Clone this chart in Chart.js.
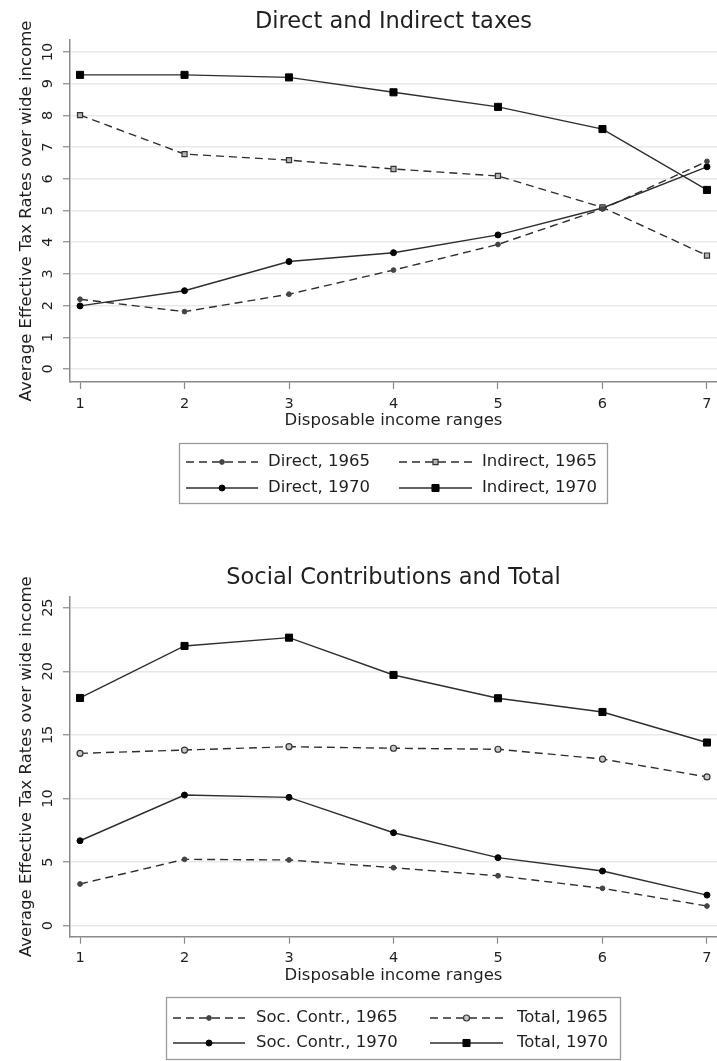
<!DOCTYPE html>
<html>
<head>
<meta charset="utf-8">
<title>Average effective tax rates by disposable income range</title>
<script src="https://cdn.jsdelivr.net/npm/chart.js@4.4.0/dist/chart.umd.min.js"></script>
<style>
  html, body { margin: 0; padding: 0; background: #ffffff; }
  #wrap { position: relative; width: 717px; height: 1061px; overflow: hidden; background: #ffffff; }
  #wrap canvas { position: absolute; left: 0; }
</style>
</head>
<body>
<div id="wrap">
  <canvas id="taxes" width="717" height="530" style="top:0px"></canvas>
  <canvas id="social" width="717" height="531" style="top:530px"></canvas>
</div>
<script>
// Disposable income ranges (x axis)
const incomeRanges = [1, 2, 3, 4, 5, 6, 7];

// Direct and indirect taxes, % of wide income
const direct1965   = [2.20, 1.81, 2.36, 3.12, 3.93, 5.05, 6.55];
const indirect1965 = [8.01, 6.78, 6.59, 6.31, 6.09, 5.10, 3.58];
const direct1970   = [1.99, 2.47, 3.39, 3.67, 4.23, 5.08, 6.38];
const indirect1970 = [9.28, 9.28, 9.20, 8.73, 8.27, 7.57, 5.65];

// Social contributions and total, % of wide income
const socContr1965 = [3.28, 5.22, 5.17, 4.56, 3.93, 2.94, 1.55];
const total1965    = [13.55, 13.81, 14.07, 13.95, 13.87, 13.10, 11.70];
const socContr1970 = [6.68, 10.27, 10.09, 7.31, 5.35, 4.30, 2.41];
const total1970    = [17.90, 21.99, 22.64, 19.71, 17.88, 16.80, 14.40];

// Tick values
const taxTicks    = [0, 1, 2, 3, 4, 5, 6, 7, 8, 9, 10];
const socialTicks = [0, 5, 10, 15, 20, 25];

const FONT = "'DejaVu Sans', 'Liberation Sans', sans-serif";
const TEXT = '#1f1f1f';
const AXIS = '#8a8a8a';
const LINE = '#2e2e2e';

Chart.defaults.font.family = FONT;
Chart.defaults.color = TEXT;

const points = vals => incomeRanges.map((x, i) => ({ x, y: vals[i] }));

// Line styles: dashed for 1965, solid for 1970
function series(label, vals, dashed, marker) {
  return {
    label,
    data: points(vals),
    borderColor: LINE,
    borderWidth: 1.4,
    borderDash: dashed ? [8, 5] : [],
    pointStyle: marker.style,
    pointRadius: marker.radius,
    pointBackgroundColor: marker.fill,
    pointBorderColor: marker.stroke,
    pointBorderWidth: marker.width,
    pointHoverRadius: marker.radius,
    tension: 0,
    fill: false,
    clip: false
  };
}

const dot65   = { style: 'circle', radius: 2.4, fill: '#444', stroke: '#444', width: 1 };
const dot70   = { style: 'circle', radius: 3.0, fill: '#000', stroke: '#000', width: 1 };
const sq65    = { style: 'rect',   radius: 3.6, fill: '#b5b5b5', stroke: '#333', width: 1.2 };
const sq70    = { style: 'rect',   radius: 5.0, fill: '#000', stroke: '#000', width: 1 };
const ring65  = { style: 'circle', radius: 3.0, fill: '#c8c8c8', stroke: '#333', width: 1.2 };

// Tick labels: y labels rotated to read bottom-to-top, x labels centred under their ticks
const axisLabels = {
  id: 'axisLabels',
  afterDraw(chart, args, opts) {
    const ctx = chart.ctx;
    const ys = chart.scales.y;
    const xs = chart.scales.x;
    ctx.save();
    ctx.font = `${opts.size}px ${FONT}`;
    ctx.fillStyle = TEXT;
    ctx.textAlign = 'center';
    ctx.textBaseline = 'middle';
    ys.ticks.forEach(t => {
      const py = ys.getPixelForValue(t.value);
      ctx.save();
      ctx.translate(ys.right - opts.yGap, py);
      ctx.rotate(-Math.PI / 2);
      ctx.fillText(String(t.value), 0, 0);
      ctx.restore();
    });
    xs.ticks.forEach(t => {
      ctx.fillText(String(t.value), xs.getPixelForValue(t.value), xs.top + opts.xGap);
    });
    ctx.restore();
  }
};

// Boxed two-column legend with line-and-marker keys
const boxLegend = {
  id: 'boxLegend',
  afterDraw(chart, args, o) {
    const ctx = chart.ctx;
    ctx.save();
    ctx.strokeStyle = '#9a9a9a';
    ctx.lineWidth = 1.3;
    ctx.strokeRect(o.box[0] + 0.5, o.box[1] + 0.5, o.box[2] - o.box[0], o.box[3] - o.box[1]);
    ctx.font = `${o.size}px ${FONT}`;
    ctx.textBaseline = 'middle';
    ctx.textAlign = 'left';
    chart.data.datasets.forEach((ds, i) => {
      const [x1, x2, tx] = o.cols[i % 2];
      const y = o.rows[Math.floor(i / 2)];
      ctx.strokeStyle = ds.borderColor;
      ctx.lineWidth = ds.borderWidth;
      ctx.setLineDash(ds.borderDash);
      ctx.beginPath();
      ctx.moveTo(x1, y);
      ctx.lineTo(x2, y);
      ctx.stroke();
      ctx.setLineDash([]);
      ctx.fillStyle = ds.pointBackgroundColor;
      ctx.strokeStyle = ds.pointBorderColor;
      ctx.lineWidth = ds.pointBorderWidth;
      Chart.helpers.drawPoint(ctx, {
        pointStyle: ds.pointStyle, radius: ds.pointRadius,
        borderWidth: ds.pointBorderWidth, rotation: 0
      }, (x1 + x2) / 2, y);
      ctx.fillStyle = TEXT;
      ctx.fillText(ds.label, tx, y);
    });
    ctx.restore();
  }
};

function makeChart(id, cfg) {
  return new Chart(document.getElementById(id), {
    type: 'line',
    data: { datasets: cfg.datasets },
    plugins: [axisLabels, boxLegend],
    options: {
      responsive: false,
      animation: false,
      devicePixelRatio: 1,
      layout: { autoPadding: false, padding: { left: 0, right: 0, top: 0, bottom: cfg.bottomPad } },
      plugins: {
        legend: { display: false },
        tooltip: { enabled: false },
        title: {
          display: true,
          fullSize: false,
          text: cfg.title,
          color: TEXT,
          font: { size: 22.5, weight: 'normal', family: FONT },
          padding: cfg.titlePad
        },
        axisLabels: { yGap: 22, xGap: 22, size: 14.5 },
        boxLegend: cfg.legend
      },
      scales: {
        x: {
          type: 'linear',
          min: 0.904,
          max: 7.096,
          afterBuildTicks: s => { s.ticks = incomeRanges.map(v => ({ value: v })); },
          afterFit: s => { s.height = 49; s.paddingLeft = 0; s.paddingRight = 0; },
          grid: { drawOnChartArea: false, drawTicks: true, tickLength: 7, tickColor: AXIS, tickWidth: 1.2 },
          border: { display: true, color: AXIS, width: 1.5 },
          ticks: { display: false },
          title: { display: true, text: 'Disposable income ranges', color: TEXT,
                   font: { size: 16.5 }, padding: { top: 0, bottom: 0 } }
        },
        y: {
          type: 'linear',
          min: cfg.yMin,
          max: cfg.yMax,
          afterBuildTicks: s => { s.ticks = cfg.yTicks.map(v => ({ value: v })); },
          afterFit: s => { s.width = 70; s.paddingTop = 0; s.paddingBottom = 0; },
          grid: { color: 'rgba(0,0,0,0.09)', lineWidth: 1.5, drawTicks: true, tickLength: 7,
                  tickColor: AXIS, tickWidth: 1.2 },
          border: { display: true, color: AXIS, width: 1.5 },
          ticks: { display: false },
          title: { display: true, text: 'Average Effective Tax Rates over wide income', color: TEXT,
                   font: { size: 16.5 }, padding: { top: 17, bottom: 0 } }
        }
      }
    }
  });
}

makeChart('taxes', {
  title: 'Direct and Indirect taxes',
  titlePad: { top: 8.5, bottom: 4.5 },
  bottomPad: 99,
  yMin: -0.41, yMax: 10.38, yTicks: taxTicks,
  datasets: [
    series('Direct, 1965', direct1965, true, dot65),
    series('Indirect, 1965', indirect1965, true, sq65),
    series('Direct, 1970', direct1970, false, dot70),
    series('Indirect, 1970', indirect1970, false, sq70)
  ],
  legend: { box: [179, 443, 607, 503], rows: [462, 488],
            cols: [[186, 258, 268], [399, 472, 482]], size: 16.5 }
});

makeChart('social', {
  title: 'Social Contributions and Total',
  titlePad: { top: 34.5, bottom: 5.2 },
  bottomPad: 75.3,
  yMin: -0.86, yMax: 25.86, yTicks: socialTicks,
  datasets: [
    series('Soc. Contr., 1965', socContr1965, true, dot65),
    series('Total, 1965', total1965, true, ring65),
    series('Soc. Contr., 1970', socContr1970, false, dot70),
    series('Total, 1970', total1970, false, sq70)
  ],
  legend: { box: [166, 467, 620, 529], rows: [488, 513],
            cols: [[173, 245, 256], [430, 503, 517]], size: 16.5 }
});
</script>
</body>
</html>
